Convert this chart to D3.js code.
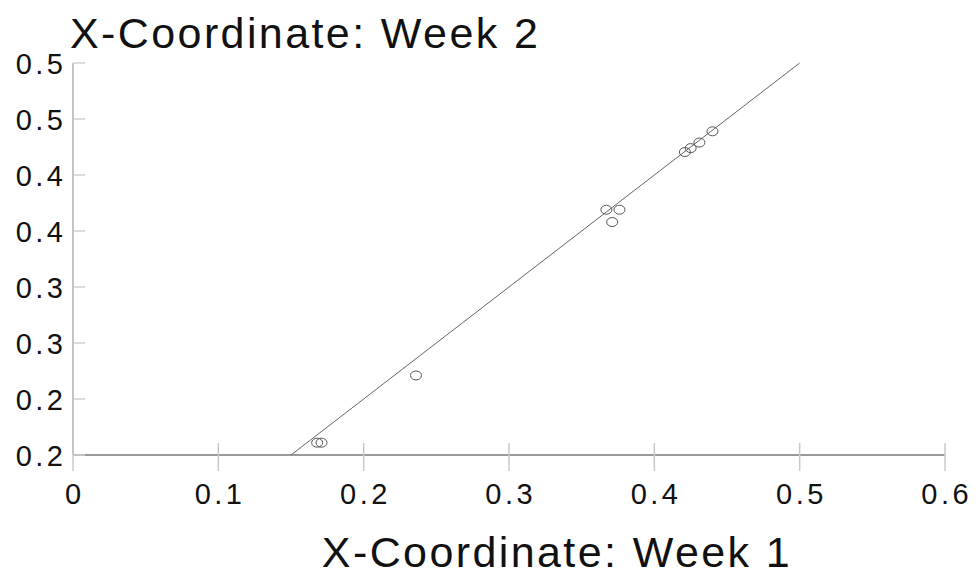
<!DOCTYPE html>
<html>
<head>
<meta charset="utf-8">
<script src="https://cdn.jsdelivr.net/npm/d3@7"></script>
<style>
  html, body { margin: 0; padding: 0; background: #fff; }
  svg text { font-family: "Liberation Sans", Arial, sans-serif; fill: #111; }
</style>
</head>
<body>
<svg id="chart" width="978" height="578"></svg>
<script>
// Week 1 vs Week 2 x-coordinates of tracked points
const week1 = [0.168, 0.171, 0.236, 0.367, 0.376, 0.371, 0.421, 0.425, 0.431, 0.440];
const week2 = [0.211, 0.211, 0.271, 0.419, 0.419, 0.408, 0.4705, 0.474, 0.479, 0.489];

// Fitted line endpoints (week 1 -> week 2)
const fitX = [0.15, 0.5];
const fitY = [0.2, 0.55];

// Axis ticks and their printed labels
const xTicks = [0, 0.1, 0.2, 0.3, 0.4, 0.5, 0.6];
const xTickLabels = ["0", "0.1", "0.2", "0.3", "0.4", "0.5", "0.6"];
const yTicks = [0.2, 0.25, 0.3, 0.35, 0.4, 0.45, 0.5, 0.55];
const yTickLabels = ["0.2", "0.2", "0.3", "0.3", "0.4", "0.4", "0.5", "0.5"];

const svg = d3.select("#chart");
const plotLeft = 73, plotRight = 945, plotTop = 63, plotBottom = 455;

const x = d3.scaleLinear().domain([0, 0.6]).range([plotLeft, plotRight]);
const y = d3.scaleLinear().domain([0.2, 0.55]).range([plotBottom, plotTop]);

const tickFont = 29, tickSpacing = 3.5;

// X axis: baseline plus ticks that cross it
const xAxis = svg.append("g");
xAxis.append("line")
  .attr("x1", plotLeft).attr("x2", plotRight)
  .attr("y1", plotBottom).attr("y2", plotBottom)
  .attr("stroke", "#9a9a9a").attr("stroke-width", 2);
xAxis.selectAll("line.tick").data(xTicks).join("line")
  .attr("class", "tick")
  .attr("x1", d => x(d)).attr("x2", d => x(d))
  .attr("y1", plotBottom - 12).attr("y2", plotBottom + 16)
  .attr("stroke", "#c8c8c8").attr("stroke-width", 1.5);
xAxis.selectAll("text").data(xTicks).join("text")
  .attr("x", d => x(d) + tickSpacing / 2).attr("y", plotBottom + 49)
  .attr("text-anchor", "middle")
  .attr("font-size", tickFont)
  .attr("letter-spacing", tickSpacing)
  .text((d, i) => xTickLabels[i]);

// Y axis: line with short inward ticks
const yAxis = svg.append("g");
yAxis.append("line")
  .attr("x1", plotLeft).attr("x2", plotLeft)
  .attr("y1", plotTop).attr("y2", plotBottom)
  .attr("stroke", "#c4c4c4").attr("stroke-width", 2);
yAxis.selectAll("line.tick").data(yTicks).join("line")
  .attr("class", "tick")
  .attr("x1", plotLeft).attr("x2", plotLeft + 12)
  .attr("y1", d => y(d)).attr("y2", d => y(d))
  .attr("stroke", "#d0d0d0").attr("stroke-width", 1.5);
yAxis.selectAll("text").data(yTicks).join("text")
  .attr("x", plotLeft - 10 + tickSpacing).attr("y", d => y(d) + 11)
  .attr("text-anchor", "end")
  .attr("font-size", tickFont)
  .attr("letter-spacing", tickSpacing)
  .text((d, i) => yTickLabels[i]);

// Fitted line
svg.append("line")
  .attr("x1", x(fitX[0])).attr("y1", y(fitY[0]))
  .attr("x2", x(fitX[1])).attr("y2", y(fitY[1]))
  .attr("stroke", "#666").attr("stroke-width", 1);

// Observed points as open circles
svg.append("g").selectAll("ellipse").data(week1).join("ellipse")
  .attr("cx", d => x(d))
  .attr("cy", (d, i) => y(week2[i]))
  .attr("rx", 5.5).attr("ry", 4.5)
  .attr("fill", "none")
  .attr("stroke", "#555").attr("stroke-width", 1);

// Titles
svg.append("text")
  .attr("x", 70).attr("y", 48)
  .attr("font-size", 43)
  .attr("letter-spacing", 2.4)
  .text("X-Coordinate: Week 2");
svg.append("text")
  .attr("x", 557).attr("y", 567)
  .attr("text-anchor", "middle")
  .attr("font-size", 43)
  .attr("letter-spacing", 2.4)
  .text("X-Coordinate: Week 1");
</script>
</body>
</html>
